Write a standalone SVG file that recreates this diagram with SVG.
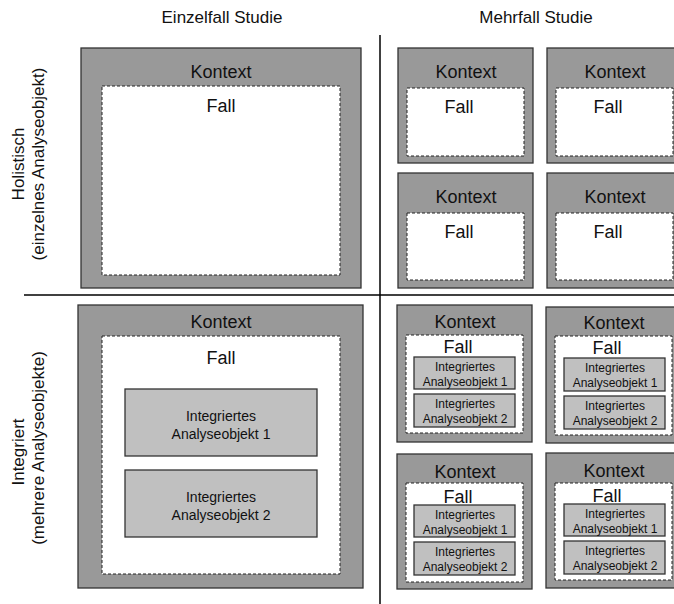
<svg xmlns="http://www.w3.org/2000/svg" width="674" height="604" viewBox="0 0 674 604">
  <style>
    text { font-family: "Liberation Sans", Arial, sans-serif; fill: #111; text-anchor: middle; }
    .hdr { font-size: 17px; }
    .side { font-size: 17px; }
    .lbl { font-size: 18px; }
    .ub { font-size: 14px; }
    .us { font-size: 12px; }
    .ctx { fill: #999999; stroke: #333333; stroke-width: 1.3; }
    .case { fill: #ffffff; stroke: #222222; stroke-width: 1; stroke-dasharray: 3 2; }
    .unit { fill: #c0c0c0; stroke: #333333; stroke-width: 1.3; }
    .axis { stroke: #000000; stroke-width: 1.5; fill: none; }
  </style>

  <!-- column and row headings -->
  <g id="headings">
    <text class="hdr" x="222" y="23">Einzelfall Studie</text>
    <text class="hdr" x="536" y="23">Mehrfall Studie</text>
    <text class="side" transform="translate(24,164) rotate(-90)">Holistisch</text>
    <text class="side" transform="translate(44,164) rotate(-90)">(einzelnes Analyseobjekt)</text>
    <text class="side" transform="translate(24,452) rotate(-90)">Integriert</text>
    <text class="side" transform="translate(44,448) rotate(-90)">(mehrere Analyseobjekte)</text>
  </g>

  <!-- quadrant dividers -->
  <g id="connectors">
    <line class="axis" x1="380" y1="35" x2="380" y2="604"/>
    <line class="axis" x1="24" y1="295" x2="674" y2="295"/>
  </g>

  <!-- single case, holistic -->
  <g id="single-holistic">
    <rect class="ctx" x="81" y="48" width="280" height="240"/>
    <text class="lbl" x="221" y="78">Kontext</text>
    <rect class="case" x="102" y="86" width="238" height="189"/>
    <text class="lbl" x="221" y="112">Fall</text>
  </g>

  <!-- multiple cases, holistic -->
  <g id="multi-holistic-1">
    <rect class="ctx" x="398" y="48" width="135" height="115"/>
    <text class="lbl" x="466" y="78">Kontext</text>
    <rect class="case" x="407" y="88" width="117" height="68"/>
    <text class="lbl" x="459" y="113">Fall</text>
  </g>
  <g id="multi-holistic-2">
    <rect class="ctx" x="547" y="48" width="136" height="115"/>
    <text class="lbl" x="615" y="78">Kontext</text>
    <rect class="case" x="556" y="88" width="117" height="68"/>
    <text class="lbl" x="608" y="113">Fall</text>
  </g>
  <g id="multi-holistic-3">
    <rect class="ctx" x="398" y="173" width="135" height="115"/>
    <text class="lbl" x="466" y="203">Kontext</text>
    <rect class="case" x="407" y="213" width="117" height="67"/>
    <text class="lbl" x="459" y="238">Fall</text>
  </g>
  <g id="multi-holistic-4">
    <rect class="ctx" x="547" y="173" width="136" height="115"/>
    <text class="lbl" x="615" y="203">Kontext</text>
    <rect class="case" x="556" y="213" width="117" height="67"/>
    <text class="lbl" x="608" y="238">Fall</text>
  </g>

  <!-- single case, embedded units -->
  <g id="single-embedded">
    <rect class="ctx" x="78" y="305" width="285" height="283"/>
    <text class="lbl" x="221" y="328">Kontext</text>
    <rect class="case" x="102" y="336" width="238" height="238"/>
    <text class="lbl" x="221" y="364">Fall</text>
    <rect class="unit" x="125" y="389" width="192" height="67"/>
    <text class="ub" x="221" y="421">Integriertes</text>
    <text class="ub" x="221" y="439">Analyseobjekt 1</text>
    <rect class="unit" x="125" y="470" width="192" height="67"/>
    <text class="ub" x="221" y="502">Integriertes</text>
    <text class="ub" x="221" y="520">Analyseobjekt 2</text>
  </g>

  <!-- multiple cases, embedded units -->
  <g id="multi-embedded-1">
    <rect class="ctx" x="397" y="305" width="135" height="137"/>
    <text class="lbl" x="465" y="328">Kontext</text>
    <rect class="case" x="406" y="335" width="117" height="98"/>
    <text class="lbl" x="458" y="353">Fall</text>
    <rect class="unit" x="414" y="357" width="101" height="32"/>
    <text class="us" x="465" y="371">Integriertes</text>
    <text class="us" x="465" y="386">Analyseobjekt 1</text>
    <rect class="unit" x="414" y="394" width="101" height="33"/>
    <text class="us" x="465" y="408">Integriertes</text>
    <text class="us" x="465" y="423">Analyseobjekt 2</text>
  </g>
  <g id="multi-embedded-2">
    <rect class="ctx" x="546" y="307" width="137" height="136"/>
    <text class="lbl" x="614" y="329">Kontext</text>
    <rect class="case" x="555" y="336" width="117" height="99"/>
    <text class="lbl" x="607" y="354">Fall</text>
    <rect class="unit" x="564" y="358" width="101" height="33"/>
    <text class="us" x="615" y="372">Integriertes</text>
    <text class="us" x="615" y="387">Analyseobjekt 1</text>
    <rect class="unit" x="564" y="396" width="101" height="33"/>
    <text class="us" x="615" y="410">Integriertes</text>
    <text class="us" x="615" y="425">Analyseobjekt 2</text>
  </g>
  <g id="multi-embedded-3">
    <rect class="ctx" x="397" y="454" width="135" height="135"/>
    <text class="lbl" x="465" y="478">Kontext</text>
    <rect class="case" x="406" y="483" width="117" height="99"/>
    <text class="lbl" x="458" y="503">Fall</text>
    <rect class="unit" x="414" y="505" width="101" height="32"/>
    <text class="us" x="465" y="519">Integriertes</text>
    <text class="us" x="465" y="534">Analyseobjekt 1</text>
    <rect class="unit" x="414" y="542" width="101" height="33"/>
    <text class="us" x="465" y="556">Integriertes</text>
    <text class="us" x="465" y="571">Analyseobjekt 2</text>
  </g>
  <g id="multi-embedded-4">
    <rect class="ctx" x="546" y="453" width="137" height="135"/>
    <text class="lbl" x="614" y="477">Kontext</text>
    <rect class="case" x="555" y="483" width="117" height="97"/>
    <text class="lbl" x="607" y="502">Fall</text>
    <rect class="unit" x="564" y="504" width="101" height="32"/>
    <text class="us" x="615" y="518">Integriertes</text>
    <text class="us" x="615" y="533">Analyseobjekt 1</text>
    <rect class="unit" x="564" y="541" width="101" height="33"/>
    <text class="us" x="615" y="555">Integriertes</text>
    <text class="us" x="615" y="570">Analyseobjekt 2</text>
  </g>
</svg>
